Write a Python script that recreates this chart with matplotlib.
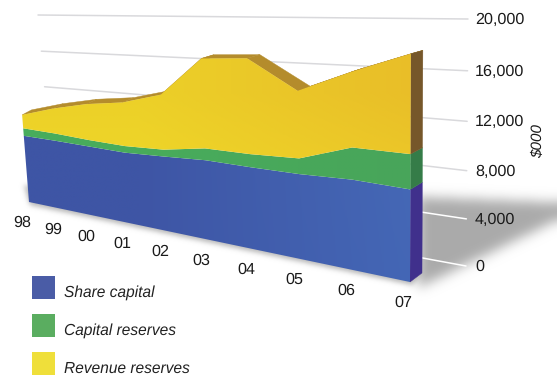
#!/usr/bin/env python3
"""Shareholders' funds drawn as a stacked 3D-style area block."""

import numpy as np
import matplotlib
matplotlib.use("Agg")
import matplotlib.pyplot as plt
from matplotlib.patches import Polygon
from matplotlib.path import Path

plt.rcParams['font.family'] = ['Liberation Sans', 'DejaVu Sans']
plt.rcParams['text.hinting'] = 'no_hinting'

# Values in $000
years = ['98', '99', '00', '01', '02', '03', '04', '05', '06', '07']
share_capital = [7150, 7100, 7000, 6900, 7060, 7260, 7200, 7200, 7350, 7220]
capital_reserves = [800, 750, 650, 640, 640, 1060, 1130, 1300, 2550, 2680]
revenue_reserves = [1420, 2550, 3550, 4160, 5050, 7880, 8070, 5500, 5850, 7400]
axis_ticks = [0, 4000, 8000, 12000, 16000, 20000]
series_names = ['Share capital', 'Capital reserves', 'Revenue reserves']

W, H = 557, 376
N = len(years) - 1
VMAX = 20000


def homography(corners):
    """Map the unit square to four pixel corners (00, 10, 11, 01)."""
    src = [(0, 0), (1, 0), (1, 1), (0, 1)]
    A, b = [], []
    for (u, v), (x, y) in zip(src, corners):
        A.append([u, v, 1, 0, 0, 0, -u * x, -v * x])
        A.append([0, 0, 0, u, v, 1, -u * y, -v * y])
        b += [x, y]
    h = np.linalg.solve(np.array(A, float), np.array(b, float))
    return np.append(h, 1).reshape(3, 3)


FRONT = homography([(29, 202), (410, 282), (411, 16), (14, 12)])
BACK = homography([(37, 196), (422, 273), (423, 14), (25, 9)])
WALL = homography([(54, 190), (466, 266), (468, 19), (38, 15)])


def project(mat, u, v):
    p = mat @ np.array([u, v, 1.0])
    return p[0] / p[2], p[1] / p[2]


def outline(mat, values):
    return [project(mat, i / N, val / VMAX) for i, val in enumerate(values)]


def gradient_fill(ax, points, colors, zorder):
    """Fill a polygon with a corner-blended colour image clipped to it."""
    grid = np.array(colors, float).reshape(2, 2, 3) / 255
    im = ax.imshow(grid, extent=(0, W, H, 0), interpolation='bilinear',
                   aspect='auto', zorder=zorder)
    patch = Polygon(points, closed=True, transform=ax.transData, fc='none', ec='none')
    ax.add_patch(patch)
    im.set_clip_path(patch)


def blurred_shadow(poly, sigma, gray):
    xx, yy = np.meshgrid(np.arange(W) + 0.5, np.arange(H) + 0.5)
    pts = np.column_stack([xx.ravel(), yy.ravel()])
    mask = Path(poly).contains_points(pts).astype(float).reshape(H, W)
    r = int(3 * sigma)
    kernel = np.exp(-0.5 * (np.arange(-r, r + 1) / sigma) ** 2)
    kernel /= kernel.sum()
    mask = np.pad(mask, r, mode='edge')
    mask = np.apply_along_axis(np.convolve, 0, mask, kernel, mode='same')
    mask = np.apply_along_axis(np.convolve, 1, mask, kernel, mode='same')
    mask = mask[r:-r, r:-r]
    rgba = np.zeros((H, W, 4))
    rgba[..., :3] = gray
    rgba[..., 3] = mask
    return rgba


fig = plt.figure(figsize=(W / 100, H / 100), dpi=100)
ax = fig.add_axes([0, 0, 1, 1])
ax.set_xlim(0, W)
ax.set_ylim(H, 0)
ax.axis('off')

# Soft shadows on the floor: the wedge behind the block and the rim along its front
ax.imshow(blurred_shadow([(418, 197), (600, 204), (590, 204), (418, 288)], 6, 0.67),
          extent=(0, W, H, 0), interpolation='bilinear', aspect='auto', zorder=1)
ax.imshow(blurred_shadow([(24, 185), (425, 270), (412, 285), (30, 205)], 2.5, 0.72),
          extent=(0, W, H, 0), interpolation='bilinear', aspect='auto', zorder=1)

# Grid lines on the rear wall, pale grey above the shadow and white on it
for tick in axis_ticks:
    x0, y0 = project(WALL, 0, tick / VMAX)
    x1, y1 = project(WALL, 1, tick / VMAX)
    color = 'white' if tick < 8000 else '#d9d9dc'
    ax.plot([x0, x1], [y0, y1], color=color, lw=1.1, zorder=2, solid_capstyle='round')
    ax.text(475, y1 + 1, f'{tick:,}', fontsize=11.6, color='#1a1a1a',
            ha='left', va='center', zorder=8)

ax.text(538, 141, '$000', rotation=90, fontsize=11, style='italic', color='#1a1a1a',
        ha='center', va='center', zorder=8)

tops = np.cumsum([share_capital, capital_reserves, revenue_reserves], axis=0)
bottoms = np.vstack([np.zeros(len(years)), tops[:-1]])

# Top faces of the block
front_top = outline(FRONT, tops[2])
back_top = outline(BACK, tops[2])
for i in range(N):
    ax.add_patch(Polygon([front_top[i], front_top[i + 1], back_top[i + 1], back_top[i]],
                         closed=True, fc='#b48c2c', ec='#b48c2c', lw=0.3, zorder=3))

# Right-hand end of the block
side_colors = ['#40308c', '#357c48', '#76572a']
for low, high, color in zip(bottoms, tops, side_colors):
    ax.add_patch(Polygon([project(FRONT, 1, low[-1] / VMAX), project(FRONT, 1, high[-1] / VMAX),
                          project(BACK, 1, high[-1] / VMAX), project(BACK, 1, low[-1] / VMAX)],
                         closed=True, fc=color, ec=color, lw=0.3, zorder=3))

# Front faces
face_colors = [
    [(62, 85, 165), (70, 105, 182), (62, 85, 165), (68, 103, 182)],
    [(72, 172, 92), (72, 165, 90), (72, 172, 92), (72, 165, 90)],
    [(236, 208, 40), (233, 190, 40), (243, 224, 40), (240, 214, 40)],
]
for zorder, (low, high, colors) in enumerate(zip(bottoms, tops, face_colors), start=4):
    points = outline(FRONT, high) + outline(FRONT, low)[::-1]
    gradient_fill(ax, points, colors, zorder)

# Year labels below the front edge
for i, label in enumerate(years):
    x, y = project(FRONT, i / N, 0)
    ax.text(x - 7, y + 21, label, fontsize=11.6, color='#1a1a1a', ha='center', va='center', zorder=8)

# Legend
legend_colors = ['#4a5ca6', '#5aad60', '#efdf3a']
for name, color, top in zip(series_names, legend_colors, [276, 314, 352]):
    ax.add_patch(Polygon([(32, top), (55, top), (55, top + 23), (32, top + 23)],
                         closed=True, fc=color, ec='none', zorder=8))
    ax.text(64, top + 17, name, fontsize=11.2, style='italic', color='#222222',
            ha='left', va='center', zorder=8)

ax.set_xlim(0, W)
ax.set_ylim(H, 0)
fig.savefig('out.png', dpi=100)
